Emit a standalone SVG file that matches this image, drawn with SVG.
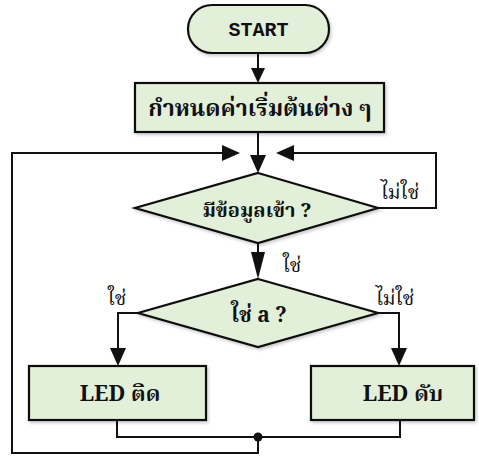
<svg xmlns="http://www.w3.org/2000/svg" width="479" height="459" viewBox="0 0 479 459">
<style>
.shape{fill:#e2efd9;stroke:#111;stroke-width:2.2;filter:url(#sh)}
.line{fill:none;stroke:#111;stroke-width:2}
.t{font-family:"Noto Serif Thai","Noto Sans Thai","Liberation Serif",serif;font-weight:bold;fill:#111;text-anchor:middle}
.lbl{font-family:"Noto Serif Thai","Noto Sans Thai","Liberation Serif",serif;fill:#111;font-size:20px;text-anchor:middle}
.mono{font-family:"Liberation Mono","Courier New",monospace;font-weight:bold;fill:#111;font-size:20px;text-anchor:middle}
</style>
<defs>
<filter id="sh" x="-10%" y="-10%" width="130%" height="140%">
<feDropShadow dx="1.5" dy="2" stdDeviation="1.5" flood-color="#000" flood-opacity="0.2"/>
</filter>
</defs>
<g id="connectors">
<line class="line" x1="258" y1="53" x2="258" y2="70"/>
<path d="M251,68 L265,68 L258,83 Z" fill="#111"/>
<line class="line" x1="258" y1="132" x2="258" y2="157"/>
<path d="M250,155 L266,155 L258,173 Z" fill="#111"/>
<polyline class="line" points="258,437 258,453 12,453 12,153 222,153"/>
<path d="M222,145 L240,153 L222,161 Z" fill="#111"/>
<polyline class="line" points="378,208 436,208 436,153 294,153"/>
<path d="M294,145 L276,153 L294,161 Z" fill="#111"/>
<line class="line" x1="258" y1="243" x2="258" y2="254"/>
<path d="M251,252 L265,252 L258,279 Z" fill="#111"/>
<polyline class="line" points="138,313 118,313 118,349"/>
<path d="M110,348 L126,348 L118,366 Z" fill="#111"/>
<polyline class="line" points="378,313 399,313 399,349"/>
<path d="M391,348 L407,348 L399,366 Z" fill="#111"/>
<polyline class="line" points="117,420 117,437 400,437 400,420"/>
<circle cx="258" cy="437" r="4.5" fill="#111"/>
</g>
<g id="start">
<rect class="shape" x="188" y="5" width="141" height="48" rx="24" ry="24"/>
<text class="mono" x="258.5" y="36">START</text>
</g>
<g id="init">
<rect class="shape" x="135" y="83" width="249" height="49"/>
<text class="t" x="260" y="116" font-size="23">กำหนดค่าเริ่มต้นต่าง ๆ</text>
</g>
<g id="decision1">
<polygon class="shape" points="258,173 378,208 258,243 135,208"/>
<text class="t" x="257" y="217" font-size="20">มีข้อมูลเข้า ?</text>
<text class="lbl" x="400" y="199">ไม่ใช่</text>
<text class="lbl" x="292" y="272">ใช่</text>
</g>
<g id="decision2">
<polygon class="shape" points="258,279 378,313 258,347 138,313"/>
<text class="t" x="259" y="322" font-size="21">ใช่ a ?</text>
<text class="lbl" x="117" y="305">ใช่</text>
<text class="lbl" x="395" y="305">ไม่ใช่</text>
</g>
<g id="ledOn">
<rect class="shape" x="29" y="366" width="177" height="54"/>
<text class="t" x="120" y="401" font-size="22">LED ติด</text>
</g>
<g id="ledOff">
<rect class="shape" x="311" y="366" width="163" height="54"/>
<text class="t" x="403" y="401" font-size="22">LED ดับ</text>
</g>
</svg>
